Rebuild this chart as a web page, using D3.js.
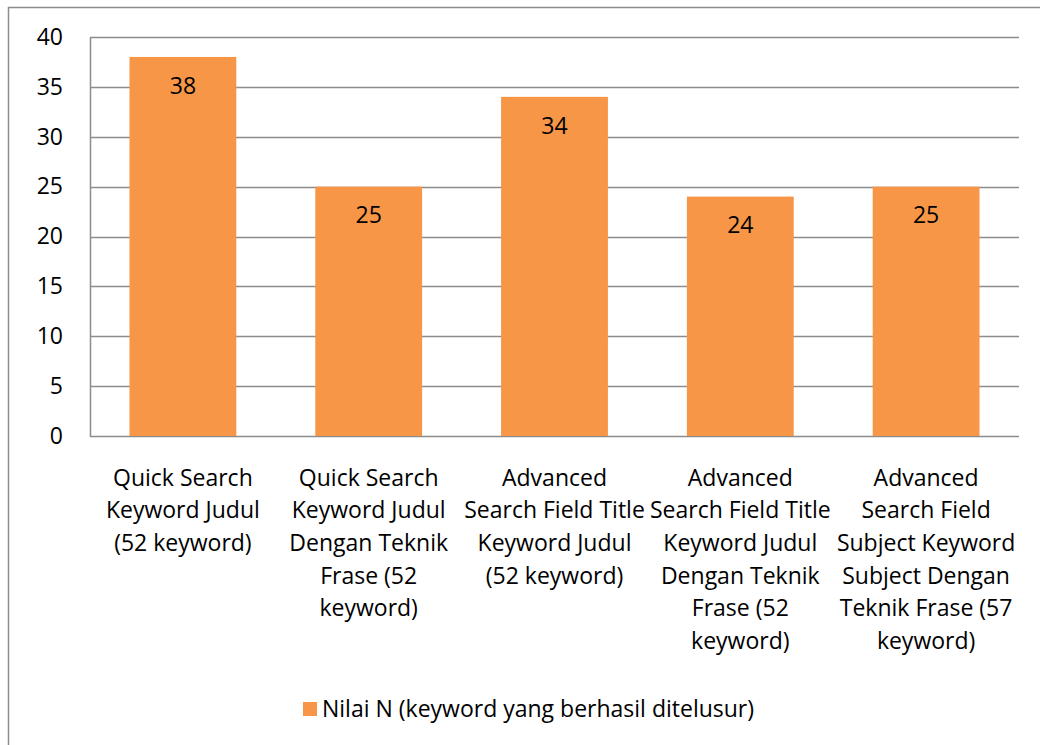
<!DOCTYPE html>
<html>
<head>
<meta charset="utf-8">
<script src="https://cdn.jsdelivr.net/npm/d3@7"></script>
<style>
	body { margin: 0; background: #fff; }
	svg { display: block; font-family: 'Open Sans', sans-serif; }
</style>
</head>
<body>
<svg id="chart" width="1040" height="745"></svg>
<script>
const CATEGORIES = [
	['Quick Search', 'Keyword Judul', '(52 keyword)'],
	['Quick Search', 'Keyword Judul', 'Dengan Teknik', 'Frase (52', 'keyword)'],
	['Advanced', 'Search Field Title', 'Keyword Judul', '(52 keyword)'],
	['Advanced', 'Search Field Title', 'Keyword Judul', 'Dengan Teknik', 'Frase (52', 'keyword)'],
	['Advanced', 'Search Field', 'Subject Keyword', 'Subject Dengan', 'Teknik Frase (57', 'keyword)']
];
const VALUES = [38, 25, 34, 24, 25];
const Y_TICKS = [0, 5, 10, 15, 20, 25, 30, 35, 40];
const SERIES_NAME = 'Nilai N (keyword yang berhasil ditelusur)';

const ORANGE = '#f79646';
const GRID = '#8c8c8c';
const FONT_SIZE = 23;

const $svg = d3.select('#chart');

// outer frame
$svg.append('rect')
	.attr('x', 8.5).attr('y', 7.5)
	.attr('width', 1040).attr('height', 745)
	.attr('fill', 'none').attr('stroke', GRID).attr('stroke-width', 1.5);

const plot = { left: 90, right: 1019, top: 37, bottom: 436 };

const x = d3.scaleBand()
	.domain(d3.range(VALUES.length))
	.range([plot.left, plot.right])
	.paddingInner(0.425)
	.paddingOuter(0.2125);

const y = d3.scaleLinear().domain([0, 40]).range([plot.bottom, plot.top]);

// gridlines
$svg.append('g')
	.selectAll('line')
	.data(Y_TICKS)
	.join('line')
	.attr('x1', plot.left).attr('x2', plot.right)
	.attr('y1', d => Math.round(y(d)) + 0.5).attr('y2', d => Math.round(y(d)) + 0.5)
	.attr('stroke', GRID).attr('stroke-width', 1.5);

// y axis line
$svg.append('line')
	.attr('x1', plot.left + 0.5).attr('x2', plot.left + 0.5)
	.attr('y1', plot.top).attr('y2', plot.bottom + 1)
	.attr('stroke', GRID).attr('stroke-width', 1.5);

// y tick labels
$svg.append('g')
	.selectAll('text')
	.data(Y_TICKS)
	.join('text')
	.attr('x', 63)
	.attr('y', d => y(d))
	.attr('dy', '0.34em')
	.attr('text-anchor', 'end')
	.attr('font-size', FONT_SIZE)
	.text(d => d);

// bars
$svg.append('g')
	.selectAll('rect')
	.data(VALUES)
	.join('rect')
	.attr('x', (d, i) => x(i))
	.attr('y', d => y(d))
	.attr('width', x.bandwidth())
	.attr('height', d => y(0) - y(d))
	.attr('fill', ORANGE);

// value labels
$svg.append('g')
	.selectAll('text')
	.data(VALUES)
	.join('text')
	.attr('x', (d, i) => x(i) + x.bandwidth() / 2)
	.attr('y', d => y(d) + 29)
	.attr('dy', '0.34em')
	.attr('text-anchor', 'middle')
	.attr('font-size', FONT_SIZE)
	.text(d => d);

// category labels
const $cat = $svg.append('g')
	.selectAll('text')
	.data(CATEGORIES)
	.join('text')
	.attr('text-anchor', 'middle')
	.attr('font-size', FONT_SIZE);

$cat.selectAll('tspan')
	.data((d, i) => d.map(line => ({ line, i })))
	.join('tspan')
	.attr('x', d => x(d.i) + x.bandwidth() / 2)
	.attr('y', (d, j) => 478 + j * 32.6)
	.attr('dy', '0.34em')
	.text(d => d.line);

// legend
const $legend = $svg.append('g');
$legend.append('rect')
	.attr('x', 303).attr('y', 702)
	.attr('width', 14).attr('height', 14)
	.attr('fill', ORANGE);
$legend.append('text')
	.attr('x', 322).attr('y', 709)
	.attr('dy', '0.34em')
	.attr('font-size', FONT_SIZE)
	.text(SERIES_NAME);
</script>
</body>
</html>
